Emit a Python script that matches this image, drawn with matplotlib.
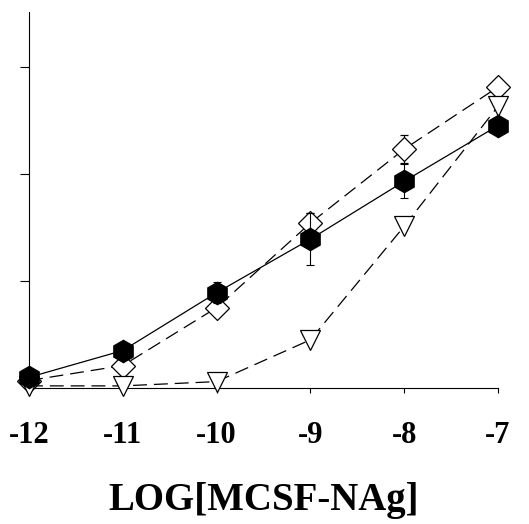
import numpy as np
import matplotlib.pyplot as plt

plt.rcParams['font.family'] = ['Liberation Serif', 'DejaVu Serif']
plt.rcParams['lines.scale_dashes'] = False

log_conc = np.array([-12, -11, -10, -9, -8, -7])

# filled hexagons, solid line
hex_mean = np.array([0.10, 0.35, 0.89, 1.39, 1.93, 2.45])
hex_err = np.array([0.0, 0.0, 0.10, 0.24, 0.16, 0.0])

# open diamonds, dashed line
dia_mean = np.array([0.07, 0.21, 0.75, 1.54, 2.23, 2.81])
dia_err = np.array([0.0, 0.0, 0.0, 0.09, 0.13, 0.0])

# open down triangles, dashed line
tri_mean = np.array([0.02, 0.02, 0.06, 0.45, 1.51, 2.63])


def main():
    fig = plt.figure(figsize=(5.29, 5.24), dpi=100)
    ax = fig.add_axes([0.0548, 0.2595, 0.8866, 0.7175])

    dash = (0, (10, 5))
    ax.errorbar(log_conc, dia_mean, yerr=dia_err, color='black', linestyle=dash,
                linewidth=0.9, marker='D', markersize=12.5, markerfacecolor='white',
                markeredgecolor='black', markeredgewidth=0.9, capsize=3,
                elinewidth=0.8, capthick=0.8, clip_on=False, zorder=2)
    ax.plot(log_conc, tri_mean, color='black', linestyle=dash, linewidth=0.9,
            marker='v', markersize=15, markerfacecolor='white',
            markeredgecolor='black', markeredgewidth=0.9, clip_on=False, zorder=3)
    ax.errorbar(log_conc, hex_mean, yerr=hex_err, color='black', linestyle='-',
                linewidth=0.9, marker='h', markersize=16, markerfacecolor='black',
                markeredgecolor='black', capsize=3, elinewidth=0.8, capthick=0.8,
                clip_on=False, zorder=4)

    ax.set_xlim(-12, -7)
    ax.set_ylim(0, 3.51)
    ax.set_xticks(log_conc)
    ax.set_xticklabels([str(v) for v in log_conc], fontsize=22, fontweight='bold')
    ax.set_yticks([1, 2, 3])
    ax.set_yticklabels([])
    ax.tick_params(axis='x', direction='out', length=3.6, width=0.8, pad=20)
    ax.tick_params(axis='y', direction='out', length=6.5, width=0.8)
    ax.spines['top'].set_visible(False)
    ax.spines['right'].set_visible(False)
    ax.spines['left'].set_linewidth(0.8)
    ax.spines['bottom'].set_linewidth(0.8)

    ax.set_xlabel('LOG[MCSF-NAg]', fontsize=28, fontweight='bold', labelpad=23)

    fig.savefig('out.png', dpi=100)


if __name__ == '__main__':
    main()
